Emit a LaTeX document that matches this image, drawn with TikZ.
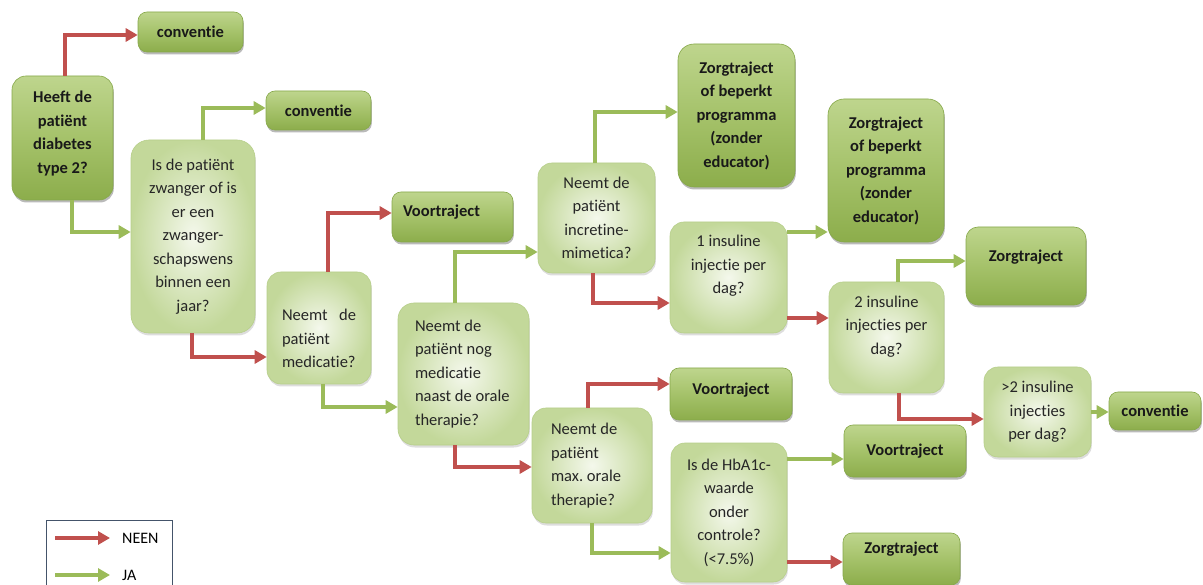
\documentclass[tikz,border=0pt]{standalone}
\usepackage{fontspec}
\setmainfont{Carlito}[Ligatures=NoCommon]
\frenchspacing
\usetikzlibrary{arrows.meta,shadows}
\definecolor{neenc}{HTML}{C0504D}
\definecolor{jac}{HTML}{9BBB59}
\definecolor{dtop}{HTML}{BED58D}
\definecolor{dmid}{HTML}{A5C26A}
\definecolor{dbot}{HTML}{8CAD4B}
\definecolor{dline}{HTML}{86A84A}
\definecolor{lin}{HTML}{F4F8EC}
\definecolor{lout}{HTML}{C3D89A}
\definecolor{lline}{HTML}{B7CF8A}
\definecolor{legline}{HTML}{44546A}
\tikzset{
  darkbox/.style={rounded corners=9pt, draw=dline, line width=0.6pt,
    top color=dtop, bottom color=dbot, middle color=dmid,
    font=\fontsize{16.5}{23.5}\selectfont\bfseries, text=black!90,
    align=center, inner sep=4pt,
    drop shadow={shadow xshift=0.8pt, shadow yshift=-2.5pt, opacity=0.45, fill=black!60}},
  lightbox/.style={rounded corners=14pt, draw=lline, line width=0.6pt,
    inner color=lin, outer color=lout,
    font=\fontsize{16.5}{23.5}\selectfont, text=black!85,
    align=center, inner sep=4pt,
    drop shadow={shadow xshift=0.8pt, shadow yshift=-2.5pt, opacity=0.22, fill=black!60}},
  neen/.style={draw=neenc, line width=4.5pt, -{Triangle[length=12pt,width=13pt]}},
  ja/.style={draw=jac, line width=4.5pt, -{Triangle[length=12pt,width=13pt]}},
  legtext/.style={anchor=west, inner sep=0pt, font=\fontsize{16}{19}\selectfont, text=black}
}
\begin{document}
\begin{tikzpicture}[x=1pt,y=-1pt]
\clip (0,0) rectangle (1203,585);
\fill[white] (0,0) rectangle (1203,585);

% nodes
\node[darkbox, minimum width=101, minimum height=124, rounded corners=14pt, text depth=12pt] (heeft) at (62.5,138) {Heeft de\\patiënt\\diabetes\\type 2?};
\node[darkbox, minimum width=105, minimum height=40] (conv1) at (190.5,32) {conventie};
\node[darkbox, minimum width=105, minimum height=39] (conv2) at (318.5,110.5) {conventie};
\node[lightbox, minimum width=124, minimum height=193, rounded corners=18pt] (zwanger) at (193,236.5) {Is de patiënt\\zwanger of is\\er een\\zwanger-\\schapswens\\binnen een\\jaar?};
\node[lightbox, minimum width=104, minimum height=112, text width=74pt, inner xsep=15pt, align=flush left, text depth=26pt] (med) at (319,328) {Neemt\hfill de\\patiënt\\medicatie?};
\node[darkbox, minimum width=121, minimum height=50, text width=99pt, inner xsep=11pt, align=flush left, text depth=12pt] (voor1) at (452.5,217) {Voortraject};
\node[lightbox, minimum width=131, minimum height=142, text width=97pt, inner xsep=17pt, align=flush left, rounded corners=16pt] (nog) at (463.5,374) {Neemt de\\patiënt nog\\medicatie\\naast de orale\\therapie?};
\node[lightbox, minimum width=117, minimum height=110] (incr) at (596.5,218) {Neemt de\\patiënt\\incretine-\\mimetica?};
\node[darkbox, minimum width=117, minimum height=143, rounded corners=16pt] (zorg1) at (736.5,115.5) {Zorgtraject\\of beperkt\\programma\\(zonder\\educator)};
\node[lightbox, minimum width=117, minimum height=111, text depth=26pt] (ins1) at (728.5,277.5) {1 insuline\\injectie per\\dag?};
\node[darkbox, minimum width=116, minimum height=143, rounded corners=16pt] (zorg2) at (886,170.5) {Zorgtraject\\of beperkt\\programma\\(zonder\\educator)};
\node[lightbox, minimum width=115, minimum height=111, text depth=25pt] (ins2) at (886.5,337.5) {2 insuline\\injecties per\\dag?};
\node[darkbox, minimum width=120, minimum height=78, rounded corners=12pt, text depth=20pt] (zorg3) at (1026,266) {Zorgtraject};
\node[lightbox, minimum width=107, minimum height=90] (ins3) at (1037.5,412) {>2 insuline\\injecties\\per dag?};
\node[darkbox, minimum width=92, minimum height=38] (conv3) at (1155,411) {conventie};
\node[darkbox, minimum width=122, minimum height=52, text depth=10pt] (voor2) at (731,394) {Voortraject};
\node[lightbox, minimum width=120, minimum height=115, text width=82pt, inner xsep=19pt, align=flush left] (maxo) at (592,465.5) {Neemt de\\patiënt\\max. orale\\therapie?};
\node[lightbox, minimum width=116, minimum height=139] (hba) at (729,512.5) {Is de HbA1c-\\waarde\\onder\\controle?\\(<7.5\%)};
\node[darkbox, minimum width=122, minimum height=52] (voor3) at (905,451) {Voortraject};
\node[darkbox, minimum width=117, minimum height=52, text depth=22pt] (zorg4) at (901.5,559) {Zorgtraject};

% connectors
\draw[neen] (65,0 |- heeft.north) |- (conv1.west |- 0,35);
\draw[ja] (72,0 |- heeft.south) |- (zwanger.west |- 0,232);
\draw[ja] (203,0 |- zwanger.north) |- (conv2.west |- 0,108);
\draw[neen] (192,0 |- zwanger.south) |- (med.west |- 0,357);
\draw[neen] (328,0 |- med.north) |- (voor1.west |- 0,213);
\draw[ja] (323,0 |- med.south) |- (nog.west |- 0,407);
\draw[ja] (455,0 |- nog.north) |- (incr.west |- 0,252);
\draw[neen] (455,0 |- nog.south) |- (maxo.west |- 0,467);
\draw[ja] (595,0 |- incr.north) |- (zorg1.west |- 0,112);
\draw[neen] (593,0 |- incr.south) |- (ins1.west |- 0,303);
\draw[ja] (ins1.east |- 0,232) -- (zorg2.west |- 0,232);
\draw[neen] (ins1.east |- 0,318) -- (ins2.west |- 0,318);
\draw[ja] (898,0 |- ins2.north) |- (zorg3.west |- 0,261);
\draw[neen] (899,0 |- ins2.south) |- (ins3.west |- 0,419);
\draw[ja] (ins3.east |- 0,412) -- (conv3.west |- 0,412);
\draw[neen] (588,0 |- maxo.north) |- (voor2.west |- 0,384);
\draw[ja] (592,0 |- maxo.south) |- (hba.west |- 0,553);
\draw[ja] (hba.east |- 0,459) -- (voor3.west |- 0,459);
\draw[neen] (hba.east |- 0,562) -- (zorg4.west |- 0,562);

% legend
\draw[legline, line width=0.9pt] (46,520) rectangle (172,600);
\coordinate (lr1) at (55,538);
\coordinate (lr2) at (110,538);
\coordinate (lg1) at (55,575);
\coordinate (lg2) at (110,575);
\draw[neen] (lr1) -- (lr2);
\draw[ja] (lg1) -- (lg2);
\node[legtext] (ltneen) at (122,538) {NEEN};
\node[legtext] (ltja) at (122,575) {JA};
\end{tikzpicture}
\end{document}
